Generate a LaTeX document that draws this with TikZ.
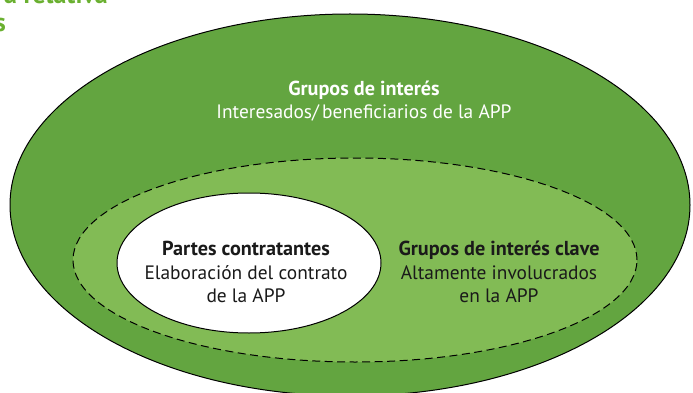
\documentclass[tikz,border=0pt]{standalone}
\usepackage{fontspec}
\setmainfont{PT Sans}
\usetikzlibrary{shapes.geometric}
\definecolor{darkg}{RGB}{99,165,64}
\definecolor{lightg}{RGB}{130,187,85}
\definecolor{headg}{RGB}{106,176,48}
\definecolor{txt}{RGB}{26,26,26}
\newcommand{\bl}[1]{{\bfseries\fontsize{20.2}{24}\selectfont #1}}
\tikzset{
  ring/.style={ellipse, inner sep=0pt, line width=1pt},
  lbl/.style={align=center, inner sep=0pt, font=\fontsize{19.4}{23.8}\selectfont},
  head/.style={inner sep=0pt, text=headg, font=\bfseries\fontsize{26}{30}\selectfont}
}
\begin{document}
\begin{tikzpicture}[x=1pt,y=-1pt]
\useasboundingbox (0,0) rectangle (693,393);
\clip (0,0) rectangle (693,393);
\node[ring, draw=black, fill=darkg, minimum width=680pt, minimum height=382pt] (outer) at (350,205) {};
\node[ring, draw=black, fill=lightg, dash pattern=on 8pt off 4.5pt, minimum width=564pt, minimum height=204pt] (inner) at (355,260) {};
\node[ring, draw=black, fill=white, minimum width=264pt, minimum height=140pt] (core) at (249,263) {};
\node[lbl, text=white] (t1) at (364,101) {\bl{Grupos de interés}\\Interesados/\,beneficiarios de la APP};
\node[lbl, text=txt] (t2) at (246,272) {\bl{Partes contratantes}\\Elaboración del contrato\\de la APP};
\node[lbl, text=txt] (t3) at (499,272) {\bl{Grupos de interés clave}\\Altamente involucrados\\en la APP};
\node[head, anchor=base east] (h1) at (108,4) {ra relativa};
\node[head, anchor=base east] (h2) at (6,32) {s};
\end{tikzpicture}
\end{document}
